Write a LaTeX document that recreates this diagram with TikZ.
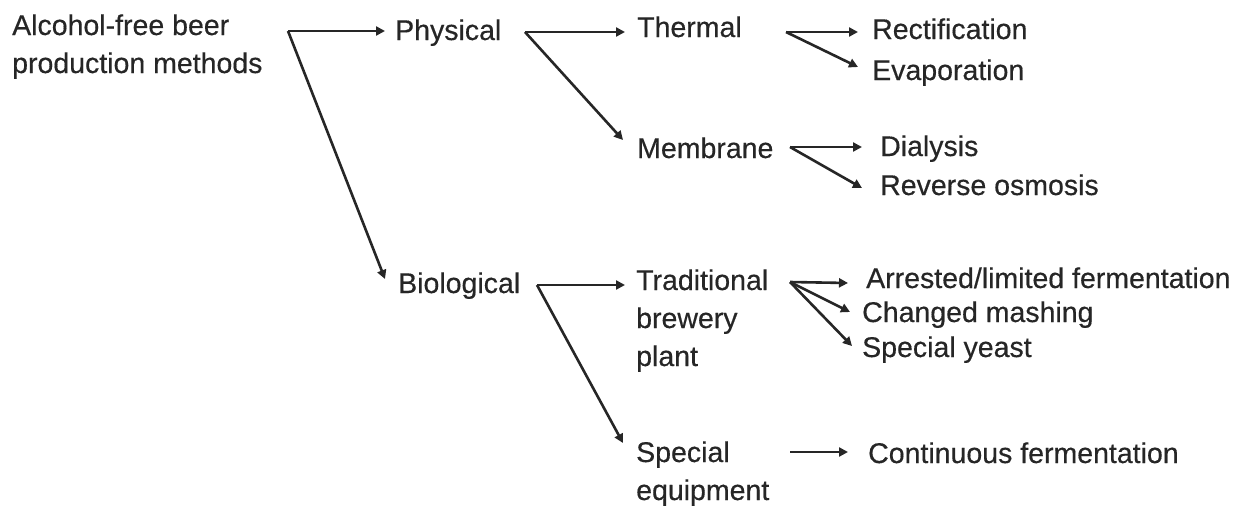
\documentclass[tikz,border=0pt]{standalone}
\usepackage{fontspec}
\setmainfont{Liberation Sans}[FakeBold=0.4]
\usetikzlibrary{arrows.meta,calc}
\newcommand{\mlines}[1]{\begin{tabular}[t]{@{}l@{}}#1\end{tabular}}
\begin{document}
\begin{tikzpicture}[x=1pt,y=1pt,
  lbl/.style={anchor=base west,inner sep=0pt,text=black!85,font=\fontsize{28.5}{38}\selectfont},
  conn/.style={line width=2.6pt,draw=black!85,-{Triangle[length=9pt,width=9pt]}}]
\fill[white] (0,0) rectangle (1249,-506);
\useasboundingbox (0,0) rectangle (1249,-506);
% text nodes
\node[lbl] (title) at (12,-35) {\mlines{Alcohol-free beer\\production methods}};
\node[lbl] (phys) at (395,-40) {Physical};
\node[lbl] (bio) at (398,-293) {Biological};
\node[lbl] (therm) at (637,-37) {Thermal};
\node[lbl] (memb) at (637,-158) {Membrane};
\node[lbl] (rect) at (872,-39) {Rectification};
\node[lbl] (evap) at (872,-80) {Evaporation};
\node[lbl] (dial) at (880,-156) {Dialysis};
\node[lbl] (rev) at (880,-195) {Reverse osmosis};
\node[lbl] (trad) at (636,-290) {\mlines{Traditional\\brewery\\plant}};
\node[lbl] (spec) at (636,-462) {\mlines{Special\\equipment}};
\node[lbl] (arr) at (866,-288) {Arrested/limited fermentation};
\node[lbl] (chg) at (862,-322) {Changed mashing};
\node[lbl] (yeast) at (862,-357) {Special yeast};
\node[lbl] (cont) at (868,-463) {Continuous fermentation};
% branching points
\coordinate (r0) at (288,-31);
\coordinate (r1) at (525,-32);
\coordinate (r2) at (786,-32);
\coordinate (r3) at (790,-147);
\coordinate (r4) at (537,-285);
\coordinate (r5) at (790,-282);
\coordinate (r6) at (790,-452);
% connectors
\draw[conn] (r0) -- ($(phys.base west)+(-10,9)$);
\draw[conn] (r0) -- ($(bio.base west)+(-13,14)$);
\draw[conn] (r1) -- ($(therm.base west)+(-12,5)$);
\draw[conn] (r1) -- ($(memb.base west)+(-14,18)$);
\draw[conn] (r2) -- ($(rect.base west)+(-14,7)$);
\draw[conn] (r2) -- ($(evap.base west)+(-14,13)$);
\draw[conn] (r3) -- ($(dial.base west)+(-18,9)$);
\draw[conn] (r3) -- ($(rev.base west)+(-18,7)$);
\draw[conn] (r4) -- ($(trad.base west)+(-11,5)$);
\draw[conn] (r4) -- ($(spec.base west)+(-13,19)$);
\draw[conn] (r5) -- ($(arr.base west)+(-18,5)$);
\draw[conn] (r5) -- ($(chg.base west)+(-12,10)$);
\draw[conn] (r5) -- ($(yeast.base west)+(-10,11)$);
\draw[conn] (r6) -- ($(cont.base west)+(-20,11)$);
\end{tikzpicture}
\end{document}
